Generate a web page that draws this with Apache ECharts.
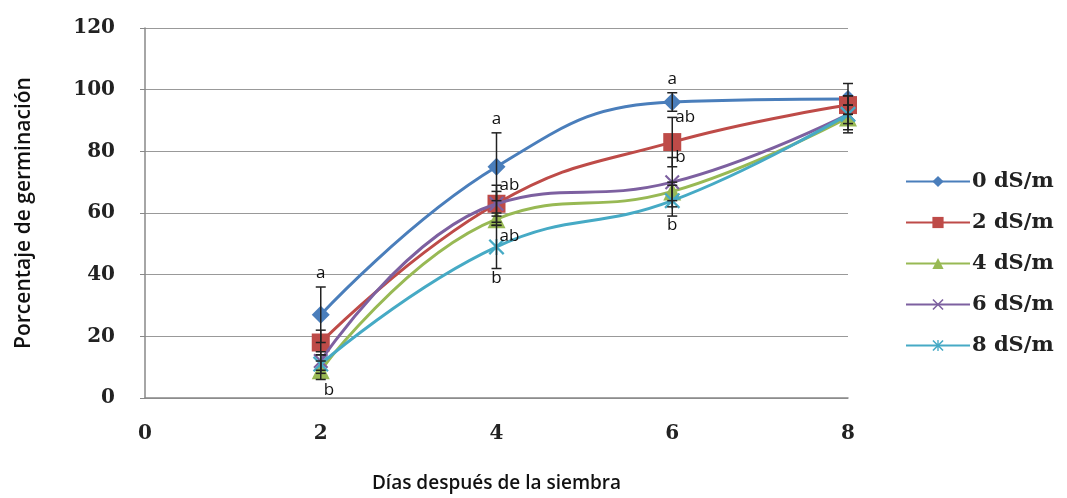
<!DOCTYPE html>
<html>
<head>
<meta charset="utf-8">
<title>Porcentaje de germinación</title>
<script src="https://cdn.jsdelivr.net/npm/echarts@6.0.0/dist/echarts.min.js"></script>
<style>
  body { margin: 0; background: #fff; }
  #main { width: 1067px; height: 498px; }
</style>
</head>
<body>
<div id="main"></div>
<script>
// dias despues de la siembra
const days = [2, 4, 6, 8];
const seriesNames = ['0 dS/m', '2 dS/m', '4 dS/m', '6 dS/m', '8 dS/m'];

// porcentaje de germinacion por conductividad
const g0 = [27, 75, 96, 97];
const g2 = [18, 63, 83, 95];
const g4 = [9, 58, 67, 91];
const g6 = [12, 63, 70, 92];
const g8 = [11, 49, 64, 92];

// error (+/-)
const e0 = [9, 11, 3, 5];
const e2 = [4, 6, 8, 3];
const e4 = [3, 2, 3, 4];
const e6 = [3, 4, 8, 3];
const e8 = [3, 7, 5, 6];

// letras de significancia
const l0 = ['a', 'a', 'a', ''];
const l2 = ['', 'ab', 'ab', ''];
const l4 = ['b', 'ab', '', ''];
const l6 = ['', '', 'b', ''];
const l8 = ['', 'b', 'b', ''];

const colors = ['#4a7ebb', '#be4b48', '#98b954', '#7d60a0', '#46aac5'];
const symbols = [
  'diamond',
  'rect',
  'triangle',
  'path://M0,1L1,0L5,4L9,0L10,1L6,5L10,9L9,10L5,6L1,10L0,9L4,5Z',
  'path://M0,1L1,0L5,4L9,0L10,1L6,5L10,9L9,10L5,6L1,10L0,9L4,5Z M4.4,0L5.6,0L5.6,10L4.4,10Z'
];
const sizes = [18, 18, 18, 15, 16];
const values = [g0, g2, g4, g6, g8];
const errors = [e0, e2, e4, e6, e8];
const letters = [l0, l2, l4, l6, l8];
const letterSide = ['top', 'rightHigh', 'rightLow', 'rightHigh', 'bottom'];

function errRender(k) {
  return function (params, api) {
    const i = params.dataIndex;
    const x = api.value(0), y = api.value(1), e = api.value(2);
    const hi = api.coord([x, y + e]);
    const lo = api.coord([x, y - e]);
    const st = { stroke: '#222', lineWidth: 1.5 };
    const kids = [
      { type: 'line', shape: { x1: hi[0], y1: hi[1], x2: lo[0], y2: lo[1] }, style: st },
      { type: 'line', shape: { x1: hi[0] - 5, y1: hi[1], x2: hi[0] + 5, y2: hi[1] }, style: st },
      { type: 'line', shape: { x1: lo[0] - 5, y1: lo[1], x2: lo[0] + 5, y2: lo[1] }, style: st }
    ];
    const t = letters[k][i];
    if (t) {
      const side = letterSide[k];
      let pos;
      if (side === 'top') pos = { x: hi[0], y: hi[1] - 5, align: 'center', verticalAlign: 'bottom' };
      else if (side === 'rightHigh') pos = { x: hi[0] + 3, y: hi[1], align: 'left', verticalAlign: 'middle' };
      else if (side === 'rightLow') pos = { x: lo[0] + 3, y: lo[1] + 2, align: 'left', verticalAlign: 'top' };
      else pos = { x: lo[0], y: lo[1] + 1, align: 'center', verticalAlign: 'top' };
      kids.push({
        type: 'text',
        style: Object.assign({ text: t, fill: '#111', font: '17px "Open Sans", sans-serif' }, pos)
      });
    }
    return { type: 'group', children: kids };
  };
}

const lineSeries = seriesNames.map((name, k) => ({
  name: name,
  type: 'line',
  smooth: 0.45,
  data: days.map((d, i) => [d, values[k][i]]),
  symbol: symbols[k],
  symbolSize: sizes[k],
  lineStyle: { width: 3, color: colors[k] },
  itemStyle: { color: colors[k] },
  z: 2 + k * 0.1
}));

const errSeries = seriesNames.map((name, k) => ({
  type: 'custom',
  name: name + ' err',
  renderItem: errRender(k),
  data: days.map((d, i) => [d, values[k][i], errors[k][i]]),
  encode: { x: 0, y: 1 },
  z: 5,
  silent: true
}));

const option = {
  animation: false,
  grid: { left: 145, top: 28, right: 219, bottom: 96 },
  legend: {
    data: seriesNames,
    orient: 'vertical',
    left: 900,
    top: 166,
    itemWidth: 64,
    itemHeight: 14,
    itemGap: 20,
    textStyle: { fontSize: 21, fontWeight: 'bold', fontFamily: 'DejaVu Serif', color: '#222', padding: [0, 0, 0, -3] }
  },
  xAxis: {
    type: 'value',
    min: 0,
    max: 8,
    interval: 2,
    name: 'Días después de la siembra',
    nameLocation: 'middle',
    nameGap: 76,
    nameTextStyle: { fontSize: 19, fontFamily: 'Open Sans', color: '#111', fontWeight: 600 },
    axisLine: { lineStyle: { color: '#888', width: 1.5 } },
    axisTick: { show: false },
    splitLine: { show: false },
    axisLabel: { margin: 26, fontSize: 20, fontWeight: 'bold', fontFamily: 'DejaVu Serif', color: '#222' }
  },
  yAxis: {
    type: 'value',
    min: 0,
    max: 120,
    interval: 20,
    name: 'Porcentaje de germinación',
    nameLocation: 'middle',
    nameGap: 110,
    nameTextStyle: { fontSize: 21, fontFamily: 'Open Sans', color: '#111', fontWeight: 600 },
    axisLine: { show: true, lineStyle: { color: '#888', width: 1.5 } },
    axisTick: { show: true, inside: false, length: 5, lineStyle: { color: '#888' } },
    splitLine: { lineStyle: { color: '#999', width: 1.2 } },
    axisLabel: { margin: 30, fontSize: 20, fontWeight: 'bold', fontFamily: 'DejaVu Serif', color: '#222' }
  },
  series: lineSeries.concat(errSeries)
};

const chart = echarts.init(document.getElementById('main'));
chart.setOption(option);
</script>
</body>
</html>
